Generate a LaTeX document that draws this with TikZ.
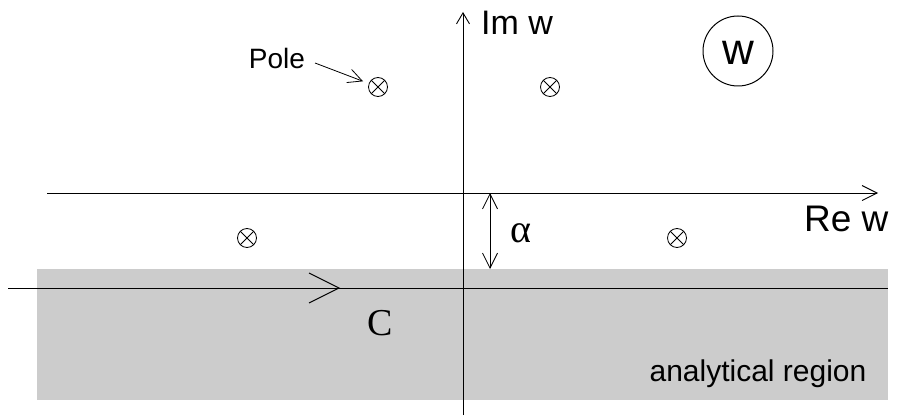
\documentclass[tikz,border=0pt]{standalone}
\usepackage{fontspec}
\setmainfont{Liberation Sans}
\newfontfamily\serifface{Liberation Serif}
\usetikzlibrary{arrows.meta,calc}
\tikzset{
  axis/.style={line width=0.9pt, draw=black},
  pole/.style={circle, draw, line width=0.8pt, minimum size=19pt, inner sep=0pt,
    path picture={\draw[line width=0.8pt] (path picture bounding box.south west) -- (path picture bounding box.north east)
      (path picture bounding box.north west) -- (path picture bounding box.south east);}},
  lbl/.style={inner sep=0pt, font=\fontsize{30}{32}\selectfont},
  barb/.style={-{Straight Barb[length=#1, width=#1]}},
}
\begin{document}
\begin{tikzpicture}[x=1pt, y=-1pt]
\useasboundingbox (0,0) rectangle (907,417);
% analytical region
\fill[black!20] (37,269) rectangle (888,400);
\node[lbl, anchor=base] (ar) at (758,381) {analytical region};
% contour C
\coordinate (cl) at (8,288);
\coordinate (cr) at (888,288);
\coordinate (cm) at (339,288);
\draw[axis] (cl) -- (cr);
\draw[line width=1pt] ($(cm)+(-30,-15)$) -- (cm) -- ($(cm)+(-30,15)$);
\node[inner sep=0pt, font=\serifface\fontsize{38}{40}\selectfont, anchor=base] (C) at (380,335) {C};
% imaginary axis
\coordinate (ib) at (463,415);
\coordinate (it) at (463,12);
\draw[axis, -{Straight Barb[length=11pt, width=13pt]}] (ib) -- (it);
\node[inner sep=0pt, font=\fontsize{34}{36}\selectfont, anchor=base west] (im) at (481,35) {Im w};
% real axis
\coordinate (rl) at (47,193);
\coordinate (rr) at (878,193);
\draw[axis, barb=15pt] (rl) -- (rr);
\node[inner sep=0pt, font=\fontsize{37}{39}\selectfont, anchor=base west] (re) at (804,231) {Re w};
% alpha
\coordinate (at) at (490,193);
\coordinate (ab) at (490,269);
\draw[line width=0.8pt, {Straight Barb[length=15pt,width=15pt]}-{Straight Barb[length=15pt,width=15pt]}] (at) -- (ab);
\node[inner sep=0pt, font=\serifface\fontsize{40}{42}\selectfont, anchor=base] (alpha) at (521,242) {α};
% poles
\node[pole] (p1) at (378,87) {};
\node[pole] (p2) at (550,87) {};
\node[pole] (p3) at (247,238) {};
\node[pole] (p4) at (677,238) {};
% pole label
\node[inner sep=0pt, font=\fontsize{28}{30}\selectfont, anchor=base] (pl) at (277,69) {Pole};
\coordinate (ps) at (315,63);
\draw[line width=0.8pt, -{Straight Barb[length=14pt,width=14pt]}, shorten >=16pt] (ps) -- (p1.center);
% w circle
\node[circle, draw, line width=1pt, minimum size=70pt, inner sep=0pt] (w) at (738,51) {};
\node[inner sep=0pt, font=\fontsize{44}{46}\selectfont, anchor=base, yshift=-14pt] (wt) at (w.center) {w};
\end{tikzpicture}
\end{document}
